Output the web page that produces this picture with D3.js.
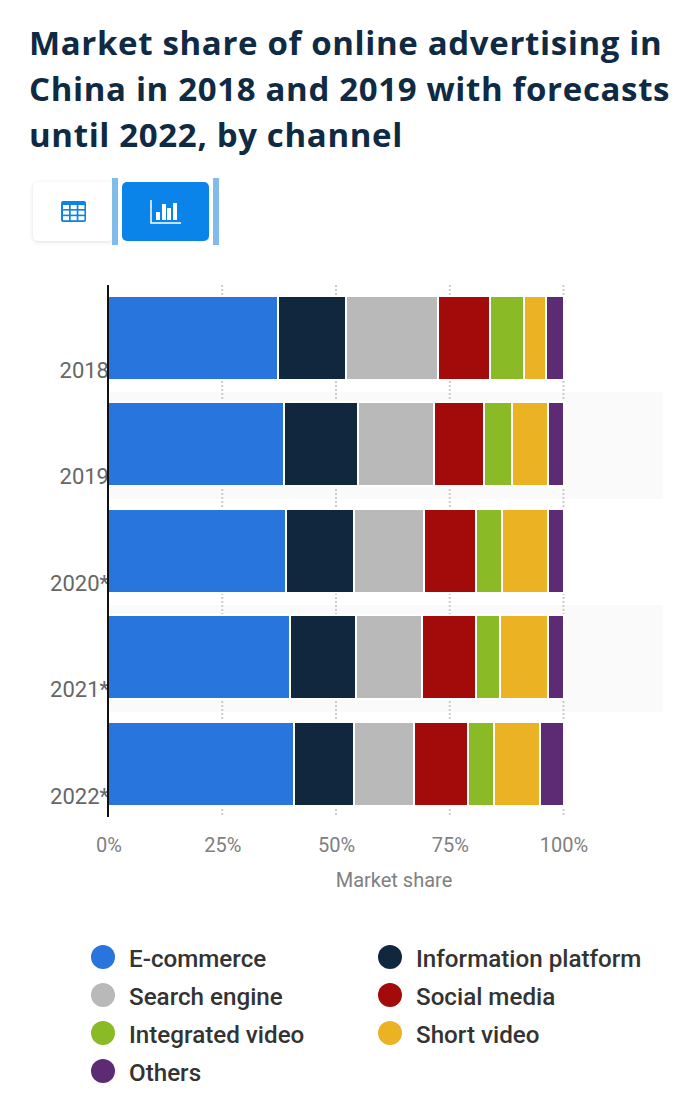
<!DOCTYPE html>
<html>
<head>
<meta charset="utf-8">
<script src="https://cdn.jsdelivr.net/npm/d3@7"></script>
<style>
  html, body { margin: 0; padding: 0; background: #fff; }
  svg { display: block; }
</style>
</head>
<body>
<svg id="chart" width="685" height="1113"></svg>
<script>
const titleLines = [
  "Market share of online advertising in",
  "China in 2018 and 2019 with forecasts",
  "until 2022, by channel",
];
const years = ["2018", "2019", "2020*", "2021*", "2022*"];
const channels = [
  "E-commerce",
  "Information platform",
  "Search engine",
  "Social media",
  "Integrated video",
  "Short video",
  "Others",
];
const channelColors = ["#2975de", "#10273e", "#b9b9b9", "#a30b0b", "#8abb26", "#ebb324", "#5d2b73"];
const ecommerce = [37.3, 38.6, 39.0, 39.9, 40.8];
const infoPlatform = [14.9, 16.2, 15.0, 14.5, 13.2];
const searchEngine = [20.2, 16.7, 15.4, 14.5, 13.1];
const socialMedia = [11.4, 11.0, 11.4, 11.9, 11.9];
const integratedVideo = [7.5, 6.2, 5.7, 5.2, 5.7];
const shortVideo = [4.8, 7.9, 10.1, 10.6, 10.1];
const others = [3.9, 3.4, 3.4, 3.4, 5.2];
const xTicks = [0, 25, 50, 75, 100];

const seriesValues = [ecommerce, infoPlatform, searchEngine, socialMedia, integratedVideo, shortVideo, others];
const rows = years.map((year, i) => {
  const row = { year };
  channels.forEach((c, j) => (row[c] = seriesValues[j][i]));
  return row;
});

const svg = d3.select("#chart");

// Title
svg.append("g")
  .selectAll("text")
  .data(titleLines)
  .enter()
  .append("text")
  .attr("x", 29)
  .attr("y", (_, i) => 55 + i * 46)
  .attr("font-family", "'Open Sans'")
  .attr("font-weight", 700)
  .attr("font-size", 33)
  .attr("letter-spacing", 0.65)
  .attr("fill", "#0f2a43")
  .text((d) => d);

// Table / chart toggle buttons
const toggle = svg.append("g");
toggle.append("rect")
  .attr("x", 33).attr("y", 182).attr("width", 81).attr("height", 59).attr("rx", 5)
  .attr("fill", "#fff")
  .style("filter", "drop-shadow(0 1px 2px rgba(0,0,0,0.12))");
toggle.append("rect")
  .attr("x", 122).attr("y", 182).attr("width", 87).attr("height", 59).attr("rx", 5)
  .attr("fill", "#0a84e8");
[112, 213].forEach((x) => {
  toggle.append("rect")
    .attr("x", x).attr("y", 178).attr("width", 6).attr("height", 67)
    .attr("fill", "#80bbeb");
});
// table icon
toggle.append("rect")
  .attr("x", 61).attr("y", 201).attr("width", 25).attr("height", 21).attr("rx", 2)
  .attr("fill", "#0a84e8");
d3.range(3).forEach((r) => {
  d3.range(3).forEach((c) => {
    toggle.append("rect")
      .attr("x", 63 + c * 7.7).attr("y", 205 + r * 5.6)
      .attr("width", 6).attr("height", 4)
      .attr("fill", "#fff");
  });
});
// bars icon
toggle.append("path")
  .attr("d", "M151 200V223H181")
  .attr("fill", "none").attr("stroke", "#fff").attr("stroke-width", 1.5);
[[156, 212], [162, 204], [167, 208], [173, 203]].forEach(([x, y]) => {
  toggle.append("rect")
    .attr("x", x).attr("y", y).attr("width", 4).attr("height", 220 - y)
    .attr("fill", "#fff");
});

// Scales
const x = d3.scaleLinear().domain([0, 100]).range([108.5, 563.5]);
const y = d3.scaleBand().domain(years).range([284.65, 817.15]).paddingInner(0.23).paddingOuter(0.115);
const step = y.step();
const barY = (year) => Math.round(y(year));
const barHeight = Math.round(y.bandwidth());

const plot = svg.append("g");

// Alternating row backgrounds
plot.append("g")
  .selectAll("rect")
  .data(years.filter((_, i) => i % 2 === 1))
  .enter()
  .append("rect")
  .attr("x", 109)
  .attr("y", (d) => Math.round(y(d) - (step - y.bandwidth()) / 2 + 0.5))
  .attr("width", 554)
  .attr("height", Math.round(step))
  .attr("fill", "#fafafa");

// Dotted grid lines
plot.append("g")
  .selectAll("line")
  .data(xTicks.slice(1))
  .enter()
  .append("line")
  .attr("x1", (d) => x(d))
  .attr("x2", (d) => x(d))
  .attr("y1", 285)
  .attr("y2", 817)
  .attr("stroke", "#cccccc")
  .attr("stroke-width", 2)
  .attr("stroke-dasharray", "2 2");

// White halo behind each bar
plot.append("g")
  .selectAll("rect")
  .data(years)
  .enter()
  .append("rect")
  .attr("x", x(0))
  .attr("y", (d) => barY(d) - 2)
  .attr("width", x(100) - x(0) + 2)
  .attr("height", barHeight + 4)
  .attr("fill", "#fff");

// Stacked bars, segments inset so a 2px white gap stays between them
const segmentStart = (d) => (d[0] === 0 ? Math.round(x(0)) : Math.round(x(d[0])) + 1);
const stacked = d3.stack().keys(channels)(rows);
plot.append("g")
  .selectAll("g")
  .data(stacked)
  .enter()
  .append("g")
  .attr("fill", (_, i) => channelColors[i])
  .selectAll("rect")
  .data((s) => s)
  .enter()
  .append("rect")
  .attr("x", segmentStart)
  .attr("y", (d) => barY(d.data.year))
  .attr("width", (d) => Math.round(x(d[1])) - 1 - segmentStart(d))
  .attr("height", barHeight);

// Category axis
const yLabels = plot.append("g");
yLabels.selectAll("text")
  .data(years)
  .enter()
  .append("text")
  .attr("x", 109)
  .attr("y", (d) => barY(d) + 81)
  .attr("text-anchor", "end")
  .attr("font-family", "Roboto")
  .attr("font-size", 22)
  .attr("fill", "#666")
  .text((d) => d);
plot.append("line")
  .attr("x1", 108).attr("x2", 108)
  .attr("y1", 285).attr("y2", 817)
  .attr("stroke", "#111").attr("stroke-width", 2);

// Value axis
const xAxis = d3.axisBottom(x)
  .tickValues(xTicks)
  .tickFormat((d) => d + "%")
  .tickSize(0)
  .tickPadding(0);
const xAxisG = svg.append("g")
  .attr("transform", "translate(0, 838)")
  .call(xAxis);
xAxisG.select(".domain").remove();
xAxisG.selectAll("text")
  .attr("font-family", "Roboto")
  .attr("font-size", 20)
  .attr("fill", "#808080");

svg.append("text")
  .attr("x", 394)
  .attr("y", 887)
  .attr("text-anchor", "middle")
  .attr("font-family", "Roboto")
  .attr("font-size", 20)
  .attr("fill", "#808080")
  .text("Market share");

// Legend, two columns
const legendItems = svg.append("g")
  .selectAll("g")
  .data(channels)
  .enter()
  .append("g")
  .attr("transform", (_, i) => `translate(${i % 2 === 0 ? 103 : 390}, ${957 + Math.floor(i / 2) * 38})`);
legendItems.append("circle")
  .attr("r", 12)
  .attr("fill", (_, i) => channelColors[i]);
legendItems.append("text")
  .attr("x", 26)
  .attr("y", 10)
  .attr("font-family", "Roboto")
  .attr("font-weight", 500)
  .attr("font-size", 24.2)
  .attr("fill", "#333")
  .text((d) => d);
</script>
</body>
</html>
